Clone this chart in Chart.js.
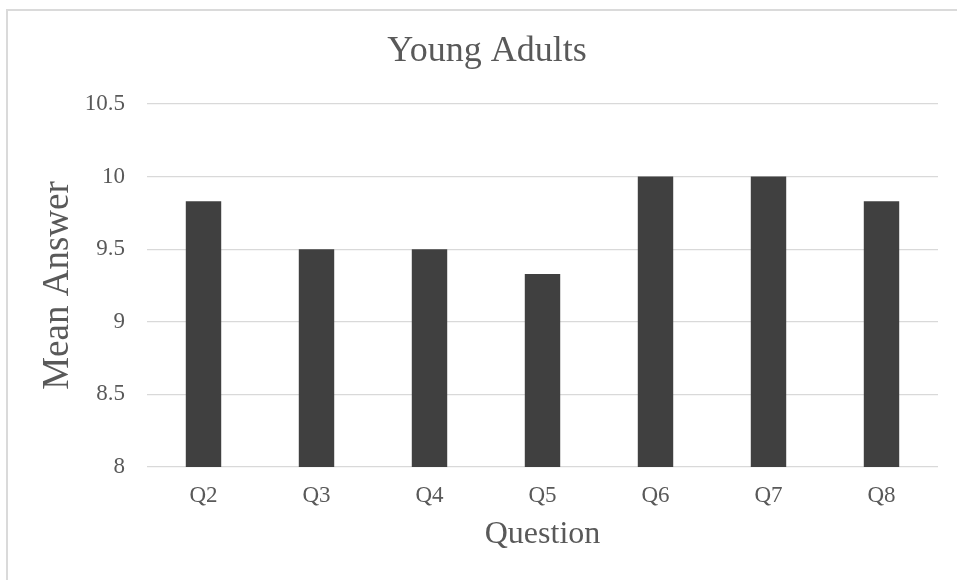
<!DOCTYPE html>
<html>
<head>
<meta charset="utf-8">
<script src="https://cdn.jsdelivr.net/npm/chart.js@4/dist/chart.umd.min.js"></script>
<style>
  html, body { margin: 0; padding: 0; background: #ffffff; }
  #wrap { position: relative; width: 957px; height: 580px; overflow: hidden; }
  #frame { position: absolute; left: 6px; top: 9px; width: 1000px; height: 640px;
           border: 2px solid #dadada; box-sizing: border-box; }
  #chart { position: absolute; left: 0; top: 0; }
</style>
</head>
<body>
<div id="wrap">
  <div id="frame"></div>
  <canvas id="chart" width="957" height="580"></canvas>
</div>
<script>
// Survey results: mean answer per question for the young-adult group
const questions = ['Q2', 'Q3', 'Q4', 'Q5', 'Q6', 'Q7', 'Q8'];
const meanAnswers = [9.83, 9.5, 9.5, 9.33, 10, 10, 9.83];
const yTicks = [8, 8.5, 9, 9.5, 10, 10.5];

const serif = "'Liberation Serif', 'Times New Roman', serif";
const textColor = '#595959';
const gridColor = '#d9d9d9';

new Chart(document.getElementById('chart'), {
  type: 'bar',
  data: {
    labels: questions,
    datasets: [{
      label: 'Mean Answer',
      data: meanAnswers,
      backgroundColor: '#404040',
      borderWidth: 0,
      barPercentage: 0.3135,
      categoryPercentage: 1.0
    }]
  },
  options: {
    responsive: false,
    animation: false,
    layout: { padding: { left: 36, right: 19, top: 0, bottom: 0 } },
    plugins: {
      legend: { display: false },
      tooltip: { enabled: false },
      title: {
        display: true,
        text: 'Young Adults',
        color: textColor,
        font: { family: serif, size: 36, weight: 'normal' },
        padding: { top: 29.5, bottom: 31.3 }
      }
    },
    scales: {
      x: {
        grid: { display: false, drawTicks: false },
        border: { display: false },
        ticks: {
          color: textColor,
          font: { family: serif, size: 23 },
          padding: 15
        },
        title: {
          display: true,
          text: 'Question',
          color: textColor,
          font: { family: serif, size: 32 },
          padding: { top: 0, bottom: 26 }
        },
        afterFit: (scale) => { scale.height = 113; }
      },
      y: {
        min: 8,
        max: 10.5,
        afterBuildTicks: (scale) => { scale.ticks = yTicks.map(v => ({ value: v })); },
        grid: { color: gridColor, lineWidth: 1.3, drawTicks: false },
        border: { display: false },
        ticks: {
          color: textColor,
          font: { family: serif, size: 23 },
          padding: 22,
          callback: (v) => String(v)
        },
        title: {
          display: true,
          text: 'Mean Answer',
          color: textColor,
          font: { family: serif, size: 37 },
          padding: { top: 0, bottom: 0 }
        },
        afterFit: (scale) => { scale.width = 111; }
      }
    }
  }
});
</script>
</body>
</html>
